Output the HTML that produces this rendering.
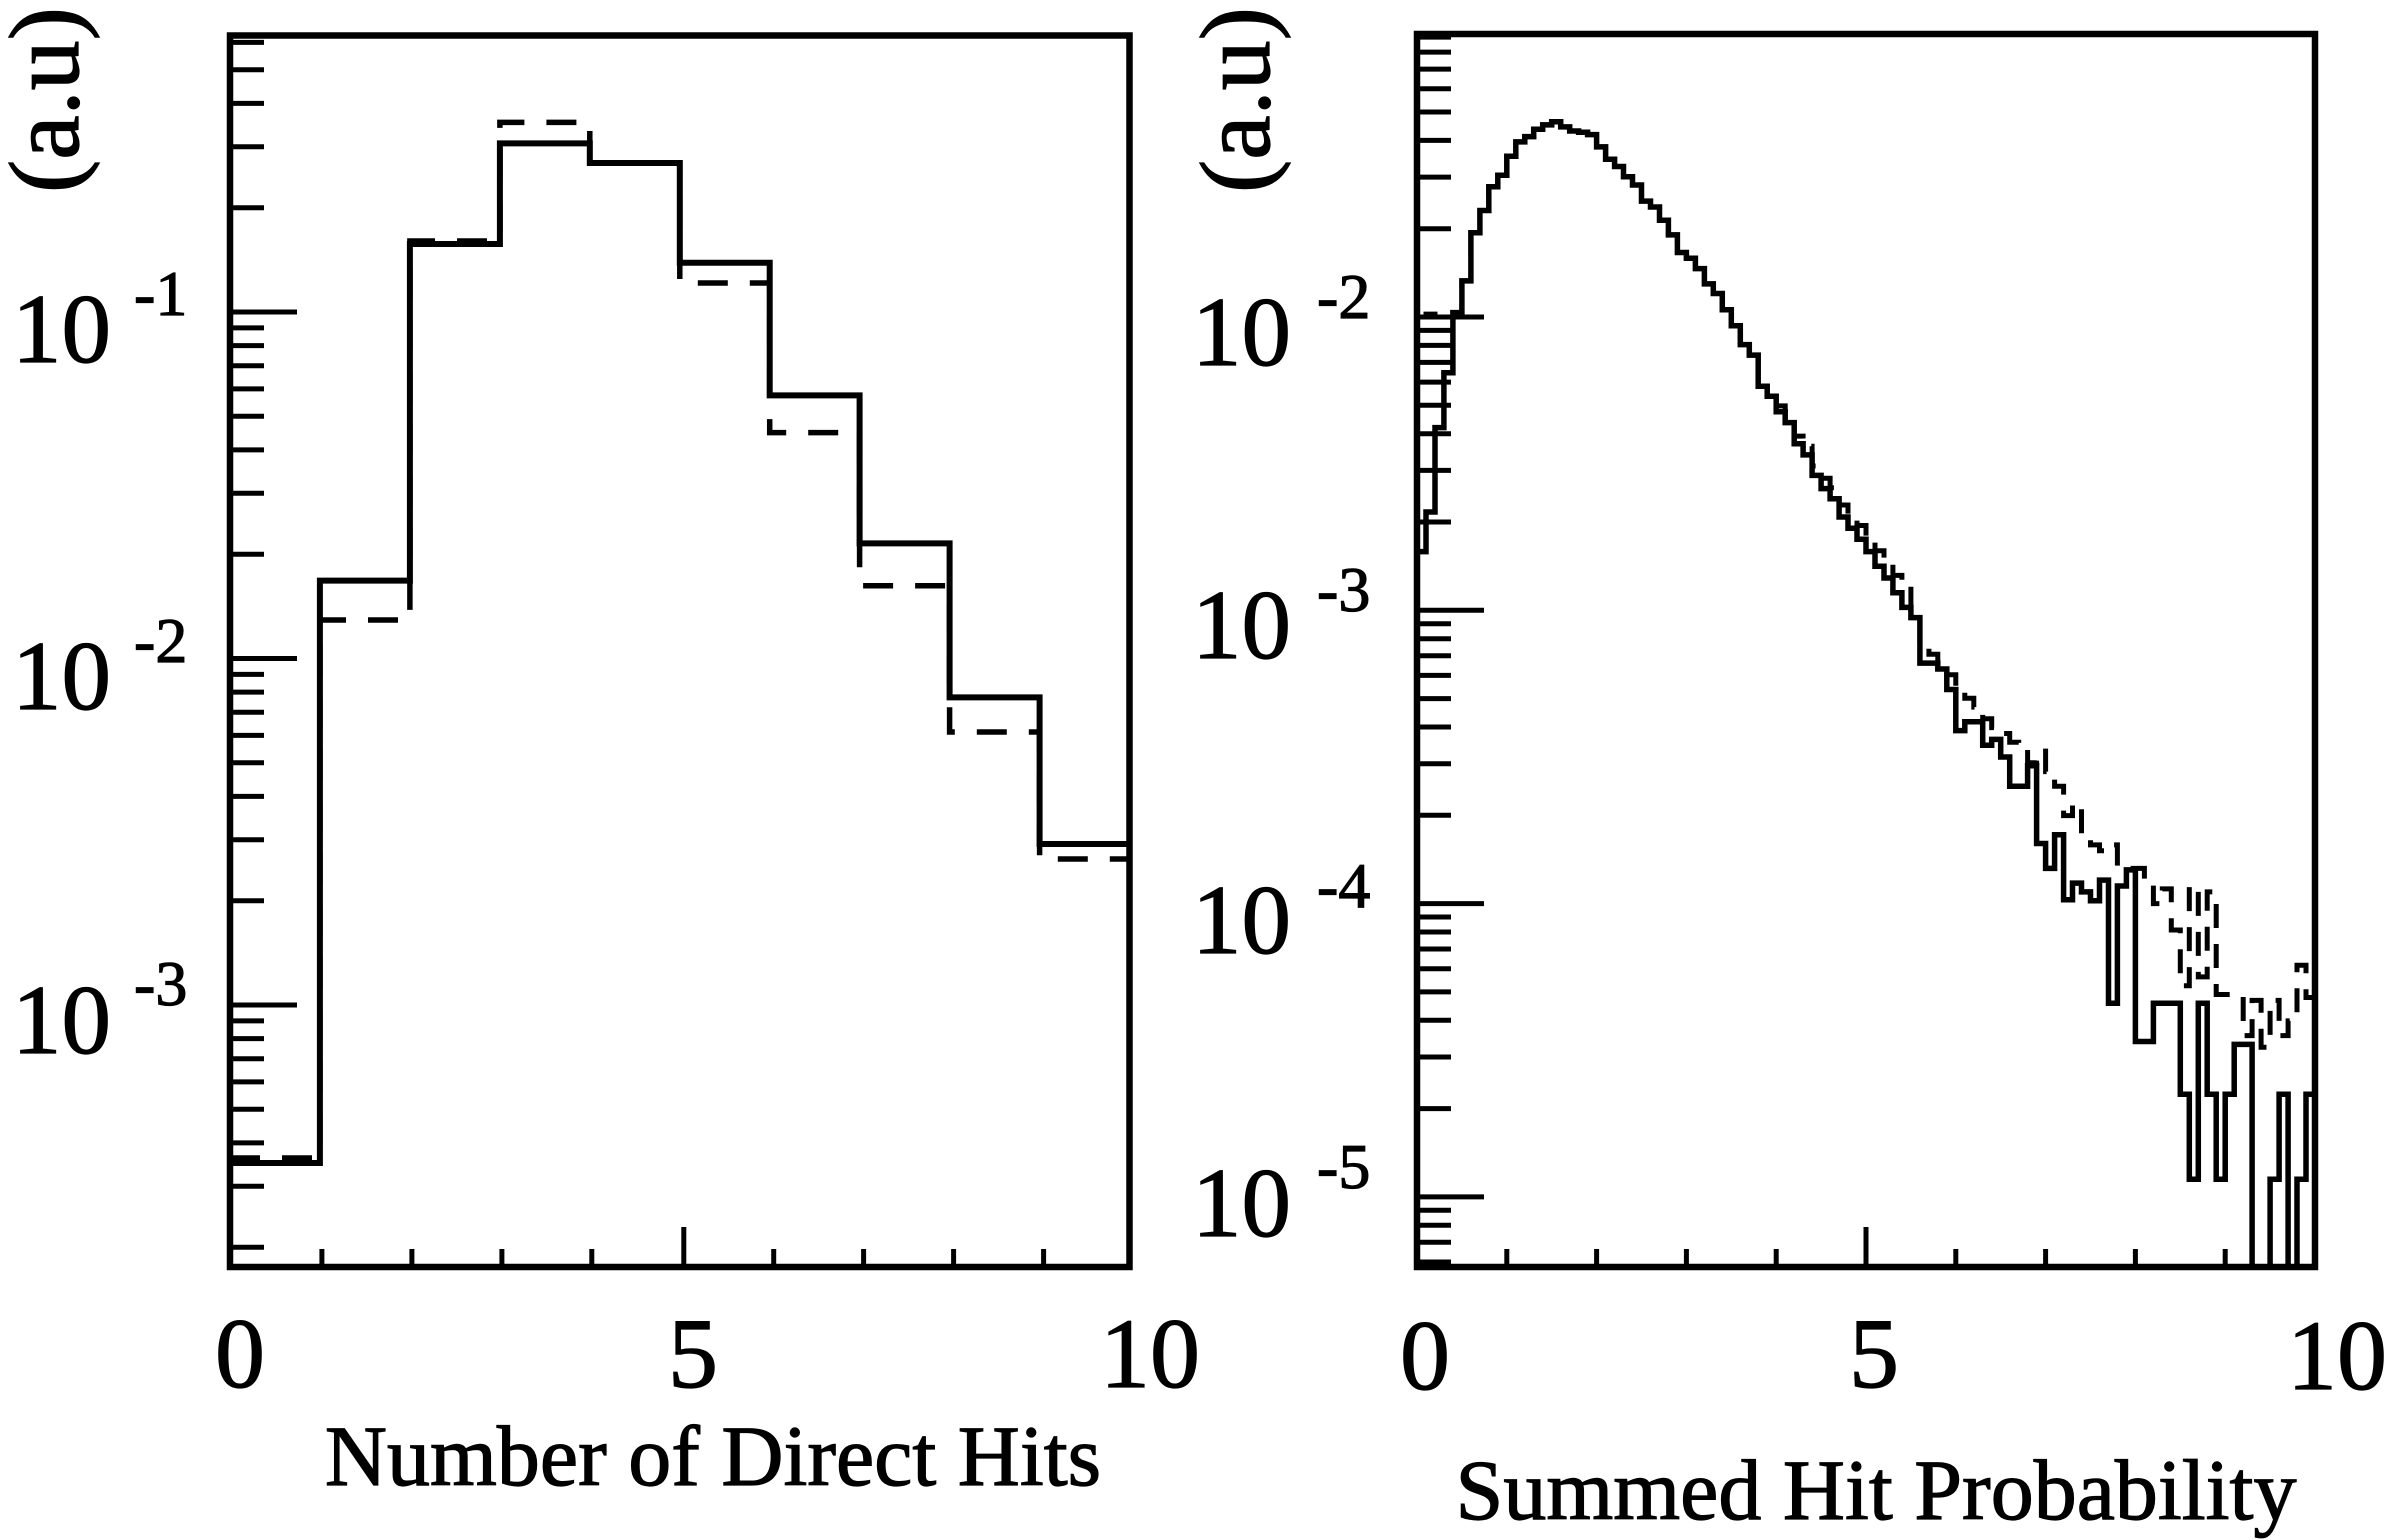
<!DOCTYPE html>
<html>
<head>
<meta charset="utf-8">
<style>
  html, body { margin: 0; padding: 0; background: #fff; }
  body { width: 2387px; height: 1540px; overflow: hidden; }
  svg { display: block; }
  text { font-family: "Liberation Serif", "Times New Roman", serif; fill: #000; stroke: #000; stroke-width: 1.2; }
</style>
</head>
<body>
<svg id="chart" xmlns="http://www.w3.org/2000/svg" width="2387" height="1540" viewBox="0 0 2387 1540">
  <rect x="0" y="0" width="2387" height="1540" fill="#fff"/>
  <defs>
    <clipPath id="cL"><rect x="230" y="35" width="900" height="1232"/></clipPath>
    <clipPath id="cR"><rect x="1417" y="34" width="898" height="1233"/></clipPath>
  </defs>

  <!-- LEFT PANEL -->
  <g id="histL" clip-path="url(#cL)" fill="none" stroke="#000" stroke-linejoin="miter"></g>
  <g id="ticksL" stroke="#000" stroke-width="5" fill="none"></g>
  <rect x="230" y="35.5" width="899.5" height="1231.5" fill="none" stroke="#000" stroke-width="6.5"/>

  <!-- RIGHT PANEL -->
  <g id="histR" clip-path="url(#cR)" fill="none" stroke="#000" stroke-linejoin="miter"></g>
  <g id="ticksR" stroke="#000" stroke-width="5" fill="none"></g>
  <rect x="1417" y="34" width="898" height="1233" fill="none" stroke="#000" stroke-width="6.5"/>

  <!-- Y axis titles -->
  <text transform="translate(78,100) rotate(-90)" text-anchor="middle" font-size="100">(a.u)</text>
  <text transform="translate(1269,100) rotate(-90)" text-anchor="middle" font-size="100">(a.u)</text>

  <!-- Left y tick labels -->
  <text x="12" y="362" font-size="99">10</text><text x="134" y="315" font-size="64">-1</text>
  <text x="12" y="709" font-size="99">10</text><text x="134" y="662" font-size="64">-2</text>
  <text x="12" y="1053" font-size="99">10</text><text x="134" y="1005" font-size="64">-3</text>

  <!-- Right y tick labels -->
  <text x="1192" y="365" font-size="99">10</text><text x="1317" y="318" font-size="64">-2</text>
  <text x="1192" y="658" font-size="99">10</text><text x="1317" y="611" font-size="64">-3</text>
  <text x="1192" y="953" font-size="99">10</text><text x="1317" y="907" font-size="64">-4</text>
  <text x="1192" y="1236" font-size="99">10</text><text x="1317" y="1188" font-size="64">-5</text>

  <!-- X tick labels -->
  <text x="240" y="1387" font-size="100" text-anchor="middle">0</text>
  <text x="693" y="1387" font-size="100" text-anchor="middle">5</text>
  <text x="1150" y="1387" font-size="100" text-anchor="middle">10</text>

  <text x="1425" y="1389" font-size="100" text-anchor="middle">0</text>
  <text x="1874" y="1387" font-size="100" text-anchor="middle">5</text>
  <text x="2337" y="1389" font-size="100" text-anchor="middle">10</text>

  <!-- X axis titles -->
  <text x="713" y="1485" font-size="86" text-anchor="middle">Number of Direct Hits</text>
  <text x="1876" y="1519" font-size="86" text-anchor="middle">Summed Hit Probability</text>
</svg>

<script>
(function(){
  // ---------- LEFT PANEL ----------
  var Lx0 = 230, Lux = 89.95, LyTop = 35.5, LyBot = 1267;
  function LY(lg){ return 312 - (lg + 1) * 346.5; }
  var solidL = [1163, 580.6, 244, 143.4, 163, 262.8, 395.4, 543.4, 697.4, 844];
  var dashL  = [1158, 620, 241, 122.4, 163, 283, 432.6, 585.7, 732, 859];
  function histPix(arr, x0, ux){
    var d = '';
    for (var i = 0; i < arr.length; i++){
      var xa = x0 + i*ux, xb = x0 + (i+1)*ux, y = arr[i];
      if (i === 0) d += 'M' + xa.toFixed(1) + ',' + y.toFixed(1);
      else d += 'V' + y.toFixed(1);
      d += 'H' + xb.toFixed(1);
    }
    return d;
  }
  var sL = '';
  sL += '<path d="' + histPix(dashL, Lx0, Lux) + '" stroke-width="5.5" stroke-dasharray="30 22"/>';
  sL += '<path d="' + histPix(solidL, Lx0, Lux) + '" stroke-width="6"/>';
  document.getElementById('histL').innerHTML = sL;

  var tL = '';
  for (var d = -4; d <= -1; d++){
    for (var k = 1; k <= 9; k++){
      var y = LY(d + Math.log10(k));
      if (y < LyTop + 3 || y > LyBot - 3) continue;
      var len = (k === 1) ? 67 : 34;
      tL += '<line x1="' + Lx0 + '" y1="' + y.toFixed(1) + '" x2="' + (Lx0 + len) + '" y2="' + y.toFixed(1) + '"/>';
    }
  }
  for (var i = 1; i <= 9; i++){
    var x = Lx0 + i*Lux + (i >= 5 ? 4 : 2);
    var ln = (i === 5) ? 40 : 18;
    tL += '<line x1="' + x.toFixed(1) + '" y1="' + LyBot + '" x2="' + x.toFixed(1) + '" y2="' + (LyBot - ln) + '"/>';
  }
  document.getElementById('ticksL').innerHTML = tL;

  // ---------- RIGHT PANEL ----------
  var Rx0 = 1417, Rux = 89.8, RyTop = 34, RyBot = 1267;
  function RY(lg){ return 317 - (lg + 2) * 293.3; }
  var solidR = [
    -2.80,-2.665,-2.377,-2.19,-1.985,-1.877,-1.713,-1.637,-1.556,-1.517,
    -1.452,-1.403,-1.385,-1.36,-1.345,-1.334,-1.352,-1.366,-1.37,-1.378,
    -1.42,-1.462,-1.487,-1.522,-1.55,-1.605,-1.625,-1.67,-1.72,-1.78,
    -1.80,-1.835,-1.887,-1.92,-1.975,-2.03,-2.094,-2.13,-2.236,-2.27,
    -2.323,-2.36,-2.432,-2.47,-2.54,-2.585,-2.62,-2.682,-2.72,-2.758,
    -2.80,-2.85,-2.89,-2.94,-2.99,-3.025,-3.18,-3.18,-3.20,-3.27,
    -3.41,-3.38,-3.38,-3.46,-3.44,-3.50,-3.60,-3.60,-3.53,-3.795,
    -3.88,-3.765,-3.987,-3.93,-3.96,-3.99,-3.92,-4.34,-3.94,-3.885,
    -4.47,-4.47,-4.34,-4.34,-4.34,-4.65,-4.94,-4.34,-4.65,-4.94,
    -4.65,-4.48,-4.48,null,null,-4.94,-4.65,null,-4.94,-4.65
  ];
  var dashR = solidR.slice();
  dashR[0] = -2.0; dashR[1] = -1.99; dashR[2] = -2.0; dashR[3] = -2.0;
  for (var i = 40; i < 55; i++){
    dashR[i] = solidR[i] + 0.02 + (i - 40) * 0.003;
  }
  var tailD = [
    -3.00,-3.10,-3.15,-3.20,-3.22,
    -3.28,-3.30,-3.33,-3.37,-3.40,-3.42,-3.45,-3.47,-3.52,-3.48,
    -3.55,-3.60,-3.70,-3.66,-3.78,-3.80,-3.82,-3.80,-3.88,-3.88,
    -3.88,-3.92,-4.00,-3.95,-4.09,-4.28,-3.94,-4.25,-3.96,-4.31,
    -4.31,-4.31,-4.45,-4.33,-4.49,-4.33,-4.45,-4.40,-4.21,-4.32
  ];
  for (var j = 0; j < tailD.length; j++) dashR[55 + j] = tailD[j];

  function histLog(arr, x0, ux, Yf, bottom){
    var d = '';
    for (var i = 0; i < arr.length; i++){
      var xa = x0 + i*ux, xb = x0 + (i+1)*ux;
      var y = (arr[i] === null) ? bottom : Yf(arr[i]);
      if (i === 0) d += 'M' + xa.toFixed(1) + ',' + y.toFixed(1);
      else d += 'V' + y.toFixed(1);
      d += 'H' + xb.toFixed(1);
    }
    return d;
  }
  var sR = '';
  sR += '<path d="' + histLog(dashR, Rx0, Rux/10, RY, RyBot + 10) + '" stroke-width="5" stroke-dasharray="24 16"/>';
  sR += '<path d="' + histLog(solidR, Rx0, Rux/10, RY, RyBot + 10) + '" stroke-width="5.5"/>';
  document.getElementById('histR').innerHTML = sR;

  var tR = '';
  for (var d2 = -6; d2 <= -2; d2++){
    for (var k2 = 1; k2 <= 9; k2++){
      var y2 = RY(d2 + Math.log10(k2));
      if (y2 < RyTop + 3 || y2 > RyBot - 3) continue;
      var len2 = (k2 === 1) ? 67 : 34;
      tR += '<line x1="' + Rx0 + '" y1="' + y2.toFixed(1) + '" x2="' + (Rx0 + len2) + '" y2="' + y2.toFixed(1) + '"/>';
    }
  }
  for (var i2 = 1; i2 <= 9; i2++){
    var xx = Rx0 + i2*Rux;
    var ln2 = (i2 === 5) ? 40 : 18;
    tR += '<line x1="' + xx.toFixed(1) + '" y1="' + RyBot + '" x2="' + xx.toFixed(1) + '" y2="' + (RyBot - ln2) + '"/>';
  }
  document.getElementById('ticksR').innerHTML = tR;
})();
</script>
</body>
</html>
